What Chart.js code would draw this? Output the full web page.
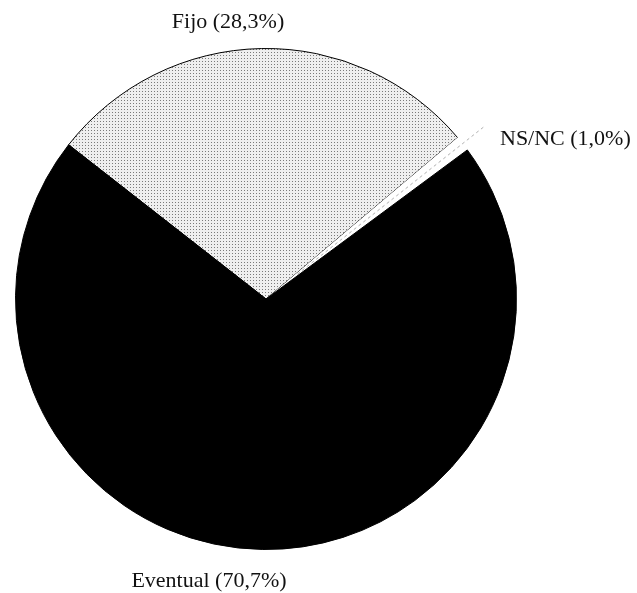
<!DOCTYPE html>
<html>
<head>
<meta charset="utf-8">
<script src="https://cdn.jsdelivr.net/npm/chart.js@4.4.1/dist/chart.umd.min.js"></script>
<style>
  body { margin: 0; background: #fff; }
  canvas { display: block; }
</style>
</head>
<body>
<canvas id="pie" width="637" height="593"></canvas>
<script>
var categories = ["Fijo", "NS/NC", "Eventual"];
var percentages = [28.3, 1.0, 70.7];
var sliceLabels = ["Fijo (28,3%)", "NS/NC (1,0%)", "Eventual (70,7%)"];

// dotted light grey fill like the printed halftone
function dotPattern() {
    var c = document.createElement("canvas");
    c.width = 3;
    c.height = 3;
    var g = c.getContext("2d");
    g.fillStyle = "#efefef";
    g.fillRect(0, 0, 3, 3);
    g.fillStyle = "#7a7a7a";
    g.fillRect(1, 1, 1, 1);
    return g.createPattern(c, "repeat");
}

var labelPlugin = {
    id: "sliceLabels",
    afterDraw: function(chart) {
        var ctx = chart.ctx;
        var arcs = chart.getDatasetMeta(0).data;
        // leader line through the small NS/NC slice
        var a = arcs[1];
        var mid = (a.startAngle + a.endAngle) / 2;
        ctx.save();
        ctx.strokeStyle = "#b0b0b0";
        ctx.lineWidth = 1;
        ctx.setLineDash([3, 3]);
        ctx.beginPath();
        ctx.moveTo(a.x + Math.cos(mid) * 40, a.y + Math.sin(mid) * 40);
        ctx.lineTo(a.x + Math.cos(mid) * (a.outerRadius + 28), a.y + Math.sin(mid) * (a.outerRadius + 28));
        ctx.stroke();
        ctx.restore();

        ctx.save();
        ctx.fillStyle = "#111";
        ctx.font = "22px 'Liberation Serif', 'Times New Roman', serif";
        ctx.textBaseline = "middle";
        ctx.textAlign = "center";
        ctx.fillText(sliceLabels[0], 228, 22);
        ctx.fillText(sliceLabels[2], 209, 581);
        ctx.textAlign = "left";
        ctx.fillText(sliceLabels[1], 500, 139);
        ctx.restore();
    }
};

var pie = new Chart(document.getElementById("pie"), {
    type: "pie",
    data: {
        labels: categories,
        datasets: [{
            data: percentages,
            backgroundColor: [dotPattern(), "#ffffff", "#000000"],
            borderColor: ["#000000", "#ffffff", "#000000"],
            borderWidth: [1, 0, 1]
        }]
    },
    options: {
        responsive: false,
        animation: false,
        rotation: -52,
        layout: {
            padding: { left: 15, right: 120, top: 48, bottom: 43 }
        },
        plugins: {
            legend: { display: false },
            tooltip: { enabled: false }
        }
    },
    plugins: [labelPlugin]
});
</script>
</body>
</html>
